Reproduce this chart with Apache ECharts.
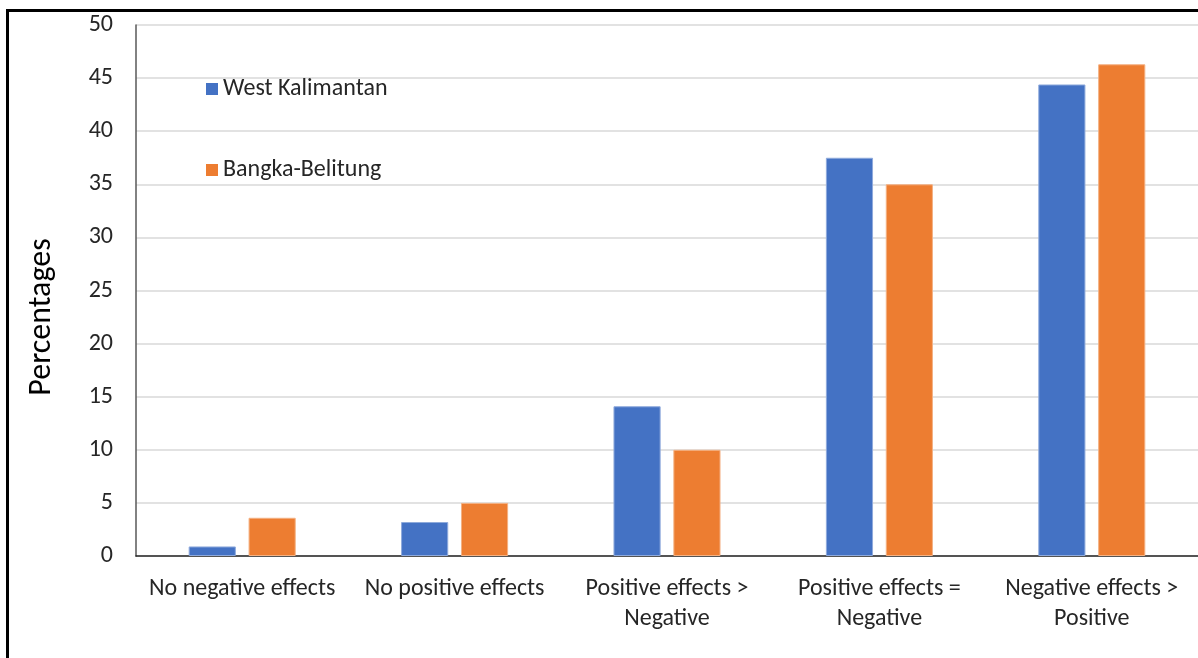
<!DOCTYPE html>
<html>
<head>
<meta charset="utf-8">
<script src="https://cdn.jsdelivr.net/npm/echarts@6/dist/echarts.min.js"></script>
<style>
  html, body { margin: 0; padding: 0; background: #fff; }
  #frame {
    position: absolute; left: 6px; top: 9px; width: 1200px; height: 660px;
    border-top: 3px solid #000; border-left: 3px solid #000;
  }
  #chart { position: absolute; left: 0; top: 0; width: 1198px; height: 658px; }
</style>
</head>
<body>
<div id="frame"></div>
<div id="chart"></div>
<script>
const categories = [
  'No negative effects',
  'No positive effects',
  'Positive effects >\nNegative',
  'Positive effects =\nNegative',
  'Negative effects >\nPositive'
]
const westKalimantan = [0.9, 3.2, 14.1, 37.5, 44.4]
const bangkaBelitung = [3.6, 5.0, 10.0, 35.0, 46.3]
const yTicks = { min: 0, max: 50, interval: 5 }

const font = 'Carlito, "Open Sans", "Noto Sans", sans-serif'
const chart = echarts.init(document.getElementById('chart'))

chart.setOption({
  animation: false,
  textStyle: { fontFamily: font },
  grid: { left: 136, right: -6, top: 25, bottom: 102 },
  legend: {
    orient: 'vertical',
    left: 201,
    top: 72,
    itemGap: 57,
    itemWidth: 12,
    itemHeight: 12,
    icon: 'rect',
    itemStyle: { borderWidth: 0 },
    textStyle: { fontSize: 24, lineHeight: 24, color: '#262626', fontFamily: font },
    data: ['West Kalimantan', 'Bangka-Belitung']
  },
  xAxis: {
    type: 'category',
    data: categories,
    axisLine: { lineStyle: { color: '#262626', width: 1.5 } },
    axisTick: { show: false },
    axisLabel: { fontSize: 24, color: '#262626', margin: 18, lineHeight: 30, interval: 0 }
  },
  yAxis: {
    type: 'value',
    min: yTicks.min,
    max: yTicks.max,
    interval: yTicks.interval,
    axisLine: { show: true, lineStyle: { color: '#595959', width: 1.5 } },
    axisTick: { show: false },
    splitLine: { lineStyle: { color: '#d9d9d9', width: 1.5 } },
    axisLabel: { fontSize: 24, color: '#262626', margin: 23 }
  },
  graphic: [{
    type: 'text',
    x: 42,
    y: 317,
    rotation: Math.PI / 2,
    style: {
      text: 'Percentages',
      font: '32px ' + font,
      fill: '#000',
      align: 'center',
      verticalAlign: 'middle'
    }
  }],
  series: [
    {
      name: 'West Kalimantan',
      type: 'bar',
      data: westKalimantan,
      barWidth: '22.2%',
      barGap: '27%',
      itemStyle: { color: '#4472c4', borderColor: '#8faadc', borderWidth: 1 }
    },
    {
      name: 'Bangka-Belitung',
      type: 'bar',
      data: bangkaBelitung,
      barWidth: '22.2%',
      barGap: '27%',
      itemStyle: { color: '#ed7d31', borderColor: '#f4b183', borderWidth: 1 }
    }
  ]
})
</script>
</body>
</html>
